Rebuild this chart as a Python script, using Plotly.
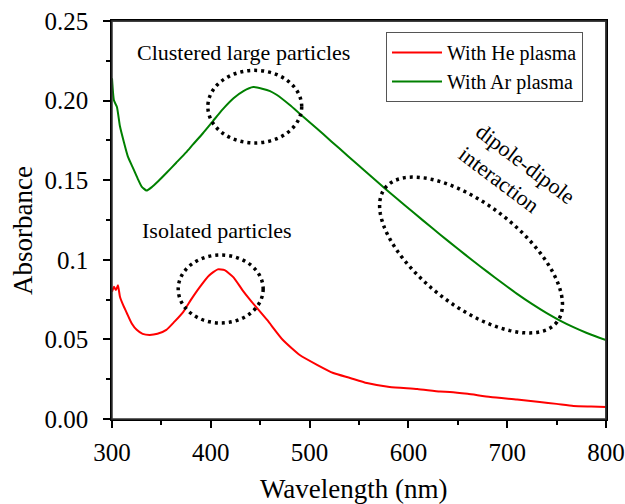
import math
import plotly.graph_objects as go

# ---- data ----
ar_wl = [300, 302, 305, 308, 312, 316, 321, 326, 330, 335, 340, 347, 355, 365, 375, 382, 392, 402,
         412, 423, 433, 443, 452, 460, 467, 480, 490, 500, 514, 530, 548, 563, 578, 596, 615, 632,
         650, 665, 680, 695, 710, 725, 740, 753, 767, 780, 790, 800]
ar_abs = [0.214, 0.200, 0.196, 0.184, 0.174, 0.165, 0.158, 0.151, 0.146, 0.1435, 0.1455, 0.1495,
          0.1545, 0.1610, 0.1675, 0.1725, 0.1795, 0.1870, 0.1945, 0.2015, 0.2060, 0.2085, 0.2075,
          0.2060, 0.2035, 0.1972, 0.1918, 0.1864, 0.1788, 0.1700, 0.1602, 0.1520, 0.1438, 0.1344,
          0.1246, 0.1159, 0.1069, 0.0996, 0.0924, 0.0854, 0.0786, 0.0723, 0.0665, 0.0620, 0.0577,
          0.0542, 0.0518, 0.0496]

he_wl = [300, 302, 304, 306, 308, 311, 315, 320, 325, 331, 338, 346, 355, 363, 372, 380, 389, 398,
         407, 414, 423, 432, 440, 457, 473, 490, 508, 524, 541, 558, 581, 609, 632, 642, 660, 683,
         710, 733, 750, 767, 785, 800]
he_abs = [0.080, 0.083, 0.081, 0.084, 0.077, 0.072, 0.0666, 0.060, 0.056, 0.0535, 0.0528, 0.0535,
          0.056, 0.061, 0.0672, 0.075, 0.083, 0.090, 0.094, 0.0935, 0.089, 0.081, 0.0747, 0.0622,
          0.0496, 0.0402, 0.0339, 0.0289, 0.0258, 0.0226, 0.0201, 0.0188, 0.0172, 0.0170, 0.0158,
          0.0138, 0.0122, 0.0107, 0.0095, 0.0082, 0.0078, 0.0075]

y_tickvals = [0.0, 0.05, 0.1, 0.15, 0.2, 0.25]
y_ticktext = ["0.00", "0.05", "0.1", "0.15", "0.20", "0.25"]
y_minor = [0.025, 0.075, 0.125, 0.175, 0.225]

X_RANGE = [300, 800]
Y_RANGE = [0, 0.25]

# layout geometry (page body margin removed by post_script)
W, H = 625, 504
ML, MT = 112, 21
MR = W - 606
MB = H - 419
PW, PH = W - ML - MR, H - MT - MB
px_per_x = PW / (X_RANGE[1] - X_RANGE[0])
px_per_y = PH / (Y_RANGE[1] - Y_RANGE[0])

FONT = "Liberation Serif, Times New Roman, serif"

fig = go.Figure()
fig.add_trace(go.Scatter(x=he_wl, y=he_abs, mode="lines", name="With He plasma",
                         line=dict(color="#ff0000", width=2, shape="spline", smoothing=0.5)))
fig.add_trace(go.Scatter(x=ar_wl, y=ar_abs, mode="lines", name="With Ar plasma",
                         line=dict(color="#008000", width=2, shape="spline", smoothing=0.5)))

# top and right frame edges, taken from the axis ranges, drawn unclipped
fig.add_trace(go.Scatter(x=[X_RANGE[0], X_RANGE[1], X_RANGE[1]],
                         y=[Y_RANGE[1], Y_RANGE[1], Y_RANGE[0]],
                         mode="lines", line=dict(color="#333333", width=1.5),
                         cliponaxis=False, showlegend=False, hoverinfo="skip"))

dot_line = dict(color="black", width=3.5, dash="3px,4px")

# axis-aligned dotted ellipses
fig.add_shape(type="circle", xref="x", yref="y", x0=397, x1=492, y0=0.1734, y1=0.219, line=dot_line)
fig.add_shape(type="circle", xref="x", yref="y", x0=367, x1=453, y0=0.0603, y1=0.103, line=dot_line)

# rotated dotted ellipse (computed in pixel space, converted to data)
cx, cy = 663.4, 0.103
a_px, b_px, th = 109, 50.6, math.radians(37.9)
pts = []
for i in range(121):
    t = 2 * math.pi * i / 120
    dx = a_px * math.cos(t) * math.cos(th) - b_px * math.sin(t) * math.sin(th)
    dy = a_px * math.cos(t) * math.sin(th) + b_px * math.sin(t) * math.cos(th)  # screen-down
    pts.append((cx + dx / px_per_x, cy - dy / px_per_y))
path = "M " + " L ".join(f"{x:.3f},{y:.5f}" for x, y in pts) + " Z"
fig.add_shape(type="path", xref="x", yref="y", path=path, line=dot_line)

# plot frame (paper-referenced)
fig.add_shape(type="rect", xref="paper", yref="paper", x0=0, x1=1, y0=0, y1=1,
              line=dict(color="#333333", width=1.5), layer="above")

ann_font = dict(family=FONT, size=22, color="black")
fig.add_annotation(x=432.6, y=0.2305, text="Clustered large particles", showarrow=False,
                   font=ann_font, xanchor="center", yanchor="middle")
fig.add_annotation(x=406, y=0.1187, text="Isolated particles", showarrow=False,
                   font=ann_font, xanchor="center", yanchor="middle")
fig.add_annotation(x=709, y=0.1530, text="dipole-dipole<br>interaction", showarrow=False,
                   font=ann_font, textangle=37, align="left", xanchor="center", yanchor="middle")

# axis titles as positioned annotations
title_font = dict(family=FONT, size=27, color="black")
fig.add_annotation(xref="paper", yref="paper", x=(23 - ML) / PW, y=(MT + PH - 231) / PH,
                   text="Absorbance", textangle=-90, showarrow=False, font=title_font,
                   xanchor="center", yanchor="middle")
fig.add_annotation(xref="paper", yref="paper", x=(354 - ML) / PW, y=(MT + PH - 489) / PH,
                   text="Wavelength (nm)", showarrow=False, font=title_font,
                   xanchor="center", yanchor="middle")

fig.update_layout(
    width=W, height=H,
    margin=dict(l=ML, r=MR, t=MT, b=MB),
    paper_bgcolor="white", plot_bgcolor="white",
    font=dict(family=FONT, color="black"),
    showlegend=True,
    legend=dict(x=(386 - ML) / PW, y=(MT + PH - 32) / PH, xanchor="left", yanchor="top",
                bordercolor="#555555", borderwidth=1, bgcolor="white",
                font=dict(family=FONT, size=20, color="black"),
                itemwidth=50, tracegroupgap=0),
)
fig.update_xaxes(range=X_RANGE, dtick=100, tick0=300, ticks="outside", ticklen=7, tickwidth=1.5,
                 tickcolor="black", showline=True, linecolor="black", linewidth=1.5, mirror=True,
                 showgrid=False, zeroline=False, tickfont=dict(family=FONT, size=25, color="black"),
                 ticklabelstandoff=3, automargin=False, ticklabeloverflow="allow",
                 minor=dict(dtick=50, ticks="outside", ticklen=4, tickwidth=1.5, tickcolor="black"))
fig.update_yaxes(range=Y_RANGE, tickvals=y_tickvals, ticktext=y_ticktext, ticks="outside", ticklen=7,
                 tickwidth=1.5, tickcolor="black", showline=True, linecolor="black", linewidth=1.5,
                 mirror=True, showgrid=False, zeroline=False, automargin=False,
                 ticklabeloverflow="allow",
                 tickfont=dict(family=FONT, size=25, color="black"), ticklabelstandoff=10,
                 minor=dict(tickvals=y_minor, ticks="outside", ticklen=4, tickwidth=1.5, tickcolor="black"))

fig.write_html("out.html", config={"displayModeBar": False},
               post_script="document.body.style.margin='0';document.body.style.overflow='hidden';")
